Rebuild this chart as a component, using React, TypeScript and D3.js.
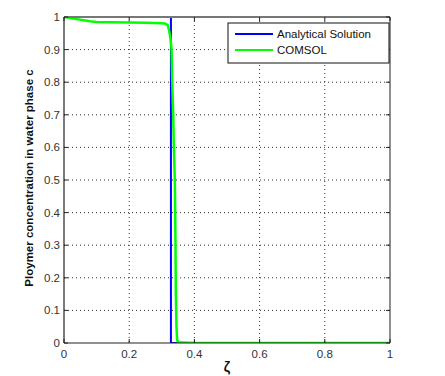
import React from "react";
import * as d3 from "d3";

const xTicks = [0, 0.2, 0.4, 0.6, 0.8, 1];
const yTicks = [0, 0.1, 0.2, 0.3, 0.4, 0.5, 0.6, 0.7, 0.8, 0.9, 1];
const xTickLabels = ["0", "0.2", "0.4", "0.6", "0.8", "1"];
const yTickLabels = ["0", "0.1", "0.2", "0.3", "0.4", "0.5", "0.6", "0.7", "0.8", "0.9", "1"];

const analyticalX = [0, 0.328, 0.328, 1];
const analyticalY = [1, 1, 0, 0];

const comsolX = [0, 0.03, 0.06, 0.08, 0.1, 0.15, 0.2, 0.25, 0.3, 0.31, 0.318, 0.322, 0.326, 0.33, 0.332, 0.335, 0.337, 0.34, 0.341, 0.342, 0.343, 0.345, 0.347, 0.35, 0.4, 0.6, 0.8, 1];
const comsolY = [1, 0.995, 0.99, 0.987, 0.985, 0.984, 0.983, 0.982, 0.981, 0.98, 0.975, 0.96, 0.94, 0.9, 0.8, 0.7, 0.6, 0.5, 0.4, 0.3, 0.15, 0.05, 0.01, 0.002, 0, 0, 0, 0];

const seriesNames = ["Analytical Solution", "COMSOL"];
const seriesColors = ["#0000ff", "#00ff00"];

export default function App() {
  const left = 64, right = 390, top = 17, bottom = 343;
  const x = d3.scaleLinear().domain([0, 1]).range([left, right]);
  const y = d3.scaleLinear().domain([0, 1]).range([bottom, top]);
  const line = d3.line<[number, number]>().x(d => x(d[0])).y(d => y(d[1]));
  const aData = analyticalX.map((v, i) => [v, analyticalY[i]] as [number, number]);
  const cData = comsolX.map((v, i) => [v, comsolY[i]] as [number, number]);
  const font = "Arial, 'Liberation Sans', sans-serif";
  const tickLen = 4;

  return (
    <svg width={445} height={376} style={{ position: "absolute", left: 0, top: 0, background: "#fff" }} fontFamily={font}>
      <rect x={0} y={0} width={445} height={376} fill="#fff" />
      <defs>
        <clipPath id="plotclip">
          <rect x={left} y={top} width={right - left} height={bottom - top} />
        </clipPath>
      </defs>
      {xTicks.slice(1, -1).map((t, i) => (
        <line key={"gx" + i} x1={x(t)} x2={x(t)} y1={top} y2={bottom} stroke="#333" strokeWidth={1} strokeDasharray="1,3" />
      ))}
      {yTicks.slice(1, -1).map((t, i) => (
        <line key={"gy" + i} x1={left} x2={right} y1={y(t)} y2={y(t)} stroke="#333" strokeWidth={1} strokeDasharray="1,3" />
      ))}
      <g clipPath="url(#plotclip)">
        <path d={line(aData) || ""} fill="none" stroke={seriesColors[0]} strokeWidth={2} />
        <path d={line(cData) || ""} fill="none" stroke={seriesColors[1]} strokeWidth={2.5} strokeLinejoin="round" />
      </g>
      <line x1={left} x2={right} y1={top} y2={top} stroke="#777" strokeWidth={2} />
      <line x1={left} x2={right} y1={bottom} y2={bottom} stroke="#222" strokeWidth={1.2} />
      <line x1={left} x2={left} y1={top} y2={bottom} stroke="#222" strokeWidth={1.2} />
      <line x1={right} x2={right} y1={top} y2={bottom} stroke="#444" strokeWidth={1.2} />
      {xTicks.map((t, i) => (
        <g key={"tx" + i}>
          <line x1={x(t)} x2={x(t)} y1={bottom} y2={bottom - tickLen} stroke="#222" />
          <line x1={x(t)} x2={x(t)} y1={top} y2={top + tickLen} stroke="#222" />
          <text x={x(t)} y={bottom + 15} textAnchor="middle" fontSize={11.5} fill="#333">{xTickLabels[i]}</text>
        </g>
      ))}
      {yTicks.map((t, i) => (
        <g key={"ty" + i}>
          <line x1={left} x2={left + tickLen} y1={y(t)} y2={y(t)} stroke="#222" />
          <line x1={right} x2={right - tickLen} y1={y(t)} y2={y(t)} stroke="#222" />
          <text x={left - 4} y={y(t) + 4} textAnchor="end" fontSize={11.5} fill="#333">{yTickLabels[i]}</text>
        </g>
      ))}
      <text x={(left + right) / 2} y={372} textAnchor="middle" fontSize={14} fontWeight="bold" fill="#111">ζ</text>
      <text transform={`translate(33, ${(top + bottom) / 2 - 2}) rotate(-90)`} textAnchor="middle" fontSize={11.5} fontWeight="bold" fill="#111">
        Ploymer concentration in water phase c
      </text>
      <rect x={228} y={23} width={161} height={40} fill="#fff" stroke="#111" strokeWidth={1} />
      {seriesNames.map((n, i) => (
        <g key={"lg" + i}>
          <line x1={235} x2={273} y1={34 + i * 16} y2={34 + i * 16} stroke={seriesColors[i]} strokeWidth={2} />
          <text x={277} y={38 + i * 16} fontSize={11.5} fill="#111">{n}</text>
        </g>
      ))}
    </svg>
  );
}
